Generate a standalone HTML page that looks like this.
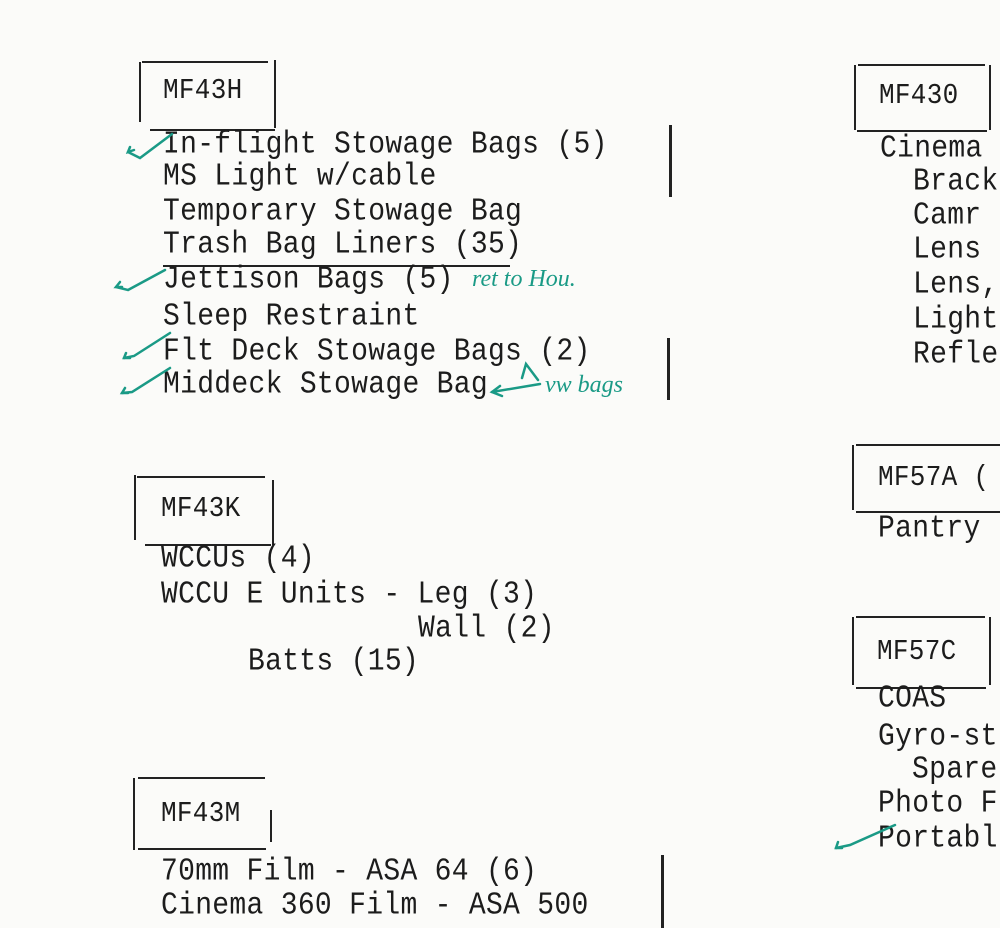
<!DOCTYPE html>
<html><head><meta charset="utf-8"><style>
html,body{margin:0;padding:0;overflow:hidden;width:1000px;height:928px}
body{background:#fbfbf9;position:relative;font-family:"Liberation Mono",monospace;color:#1c1c1c}
.t{position:absolute;font-size:28px;line-height:34px;white-space:pre;letter-spacing:0.3px;transform:scaleY(1.12);transform-origin:left center}
.h{position:absolute;background:#222;height:2px}
.v{position:absolute;background:#222;width:2px}
.g{position:absolute;color:#1a9a86;font-family:"Liberation Serif",serif;font-style:italic;font-size:24px;white-space:pre}
svg{position:absolute;left:0;top:0}
</style></head><body>
<!-- MF43H -->
<div class="h" style="left:142px;top:61px;width:126px"></div>
<div class="v" style="left:139px;top:62px;height:60px"></div>
<div class="v" style="left:274px;top:60px;height:68px"></div>
<div class="h" style="left:150px;top:129px;width:125px"></div>
<div class="t" style="left:163px;top:73px;font-size:26px">MF43H</div>
<div class="t" style="left:163px;top:129px">In-flight Stowage Bags (5)</div>
<div class="t" style="left:163px;top:161px">MS Light w/cable</div>
<div class="t" style="left:163px;top:196px">Temporary Stowage Bag</div>
<div class="t" style="left:163px;top:229px">Trash Bag Liners (35)</div>
<div class="h" style="left:163px;top:265px;width:347px"></div>
<div class="t" style="left:163px;top:264px">Jettison Bags (5)</div>
<div class="t" style="left:163px;top:301px">Sleep Restraint</div>
<div class="t" style="left:163px;top:336px">Flt Deck Stowage Bags (2)</div>
<div class="t" style="left:163px;top:369px">Middeck Stowage Bag</div>
<div class="v" style="left:669px;top:125px;height:72px;width:3px"></div>
<div class="v" style="left:667px;top:338px;height:62px;width:3px"></div>
<div class="g" style="left:472px;top:266px">ret to Hou.</div>
<div class="g" style="left:545px;top:372px">vw bags</div>
<!-- MF43K -->
<div class="h" style="left:137px;top:476px;width:128px"></div>
<div class="v" style="left:134px;top:475px;height:65px"></div>
<div class="v" style="left:272px;top:480px;height:65px"></div>
<div class="h" style="left:145px;top:544px;width:126px"></div>
<div class="t" style="left:161px;top:491px;font-size:26px">MF43K</div>
<div class="t" style="left:161px;top:543px">WCCUs (4)</div>
<div class="t" style="left:161px;top:579px">WCCU E Units - Leg (3)</div>
<div class="t" style="left:418px;top:613px">Wall (2)</div>
<div class="t" style="left:248px;top:646px">Batts (15)</div>
<!-- MF43M -->
<div class="h" style="left:138px;top:777px;width:127px"></div>
<div class="v" style="left:133px;top:778px;height:72px"></div>
<div class="v" style="left:270px;top:810px;height:32px"></div>
<div class="h" style="left:138px;top:848px;width:128px"></div>
<div class="t" style="left:161px;top:796px;font-size:26px">MF43M</div>
<div class="t" style="left:161px;top:856px">70mm Film - ASA 64 (6)</div>
<div class="t" style="left:161px;top:890px">Cinema 360 Film - ASA 500</div>
<div class="v" style="left:661px;top:855px;height:73px;width:3px"></div>
<!-- MF430 -->
<div class="h" style="left:858px;top:64px;width:127px"></div>
<div class="v" style="left:854px;top:65px;height:65px"></div>
<div class="v" style="left:989px;top:65px;height:65px"></div>
<div class="h" style="left:857px;top:130px;width:130px"></div>
<div class="t" style="left:879px;top:78px;font-size:26px">MF430</div>
<div class="t" style="left:880px;top:133px">Cinema</div>
<div class="t" style="left:913px;top:166px">Bracke</div>
<div class="t" style="left:913px;top:200px">Camr</div>
<div class="t" style="left:913px;top:234px">Lens</div>
<div class="t" style="left:913px;top:269px">Lens,</div>
<div class="t" style="left:913px;top:304px">Light</div>
<div class="t" style="left:913px;top:339px">Refle</div>
<!-- MF57A -->
<div class="h" style="left:856px;top:444px;width:144px"></div>
<div class="v" style="left:852px;top:445px;height:65px"></div>
<div class="h" style="left:856px;top:511px;width:144px"></div>
<div class="t" style="left:878px;top:460px;font-size:26px">MF57A (</div>
<div class="t" style="left:878px;top:513px">Pantry</div>
<!-- MF57C -->
<div class="h" style="left:856px;top:616px;width:129px"></div>
<div class="v" style="left:852px;top:617px;height:68px"></div>
<div class="v" style="left:989px;top:617px;height:68px"></div>
<div class="h" style="left:856px;top:687px;width:130px"></div>
<div class="t" style="left:877px;top:634px;font-size:26px">MF57C</div>
<div class="t" style="left:878px;top:683px">COAS</div>
<div class="t" style="left:878px;top:721px">Gyro-st</div>
<div class="t" style="left:912px;top:754px">Spare</div>
<div class="t" style="left:878px;top:788px">Photo F</div>
<div class="t" style="left:878px;top:823px">Portabl</div>
<svg width="1000" height="928" fill="none" stroke="#1a9a86" stroke-width="2.5" stroke-linecap="round">
<path d="M128 152 L140 158 L172 134"/><path d="M130 147 L128 152 L134 150"/>
<path d="M116 287 L128 290 L165 270"/><path d="M120 282 L116 287 L122 287"/>
<path d="M124 358 L134 356 L170 333"/><path d="M126 353 L124 358 L130 358"/>
<path d="M122 393 L132 392 L170 368"/><path d="M125 388 L122 393 L128 393"/>
<path d="M492 392 L540 384"/><path d="M500 386 L492 392 L502 396"/>
<path d="M522 378 L526 364 L538 380"/>
<path d="M836 848 L850 845 L895 825"/><path d="M838 842 L836 848 L842 848"/>
</svg>
</body></html>
